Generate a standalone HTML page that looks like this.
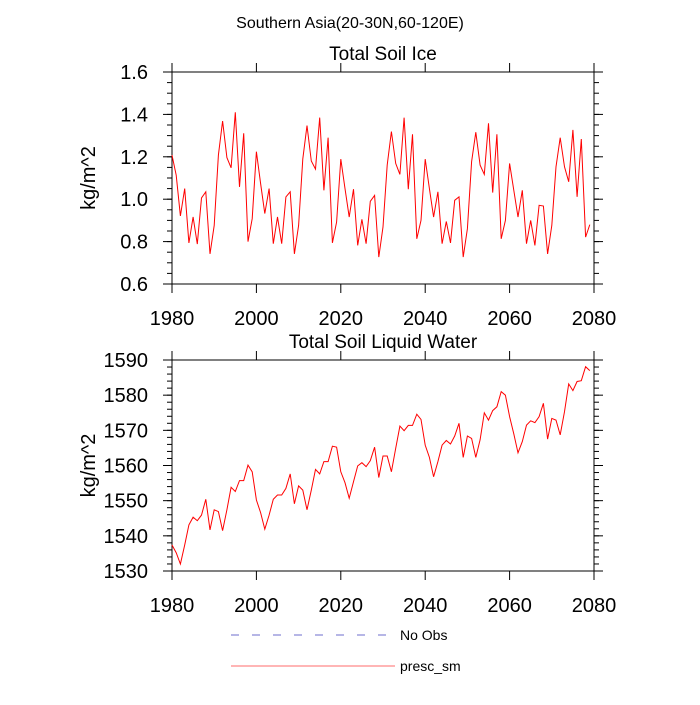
<!DOCTYPE html>
<html><head><meta charset="utf-8"><style>
body{margin:0;background:#fff;width:700px;height:700px;overflow:hidden}
svg text{font-family:"Liberation Sans",sans-serif;fill:#000}
</style></head><body>
<svg id="c" width="700" height="700"></svg>
<script>
const years=[];for(let y=1980;y<2080;y++)years.push(y);
const iceVals=[1.208,1.113,0.921,1.05,0.794,0.916,0.788,1.006,1.035,0.742,0.876,1.208,1.369,1.196,1.148,1.41,1.058,1.311,0.80,0.908,
1.224,1.074,0.932,1.05,0.79,0.916,0.79,1.011,1.035,0.742,0.876,1.19,1.347,1.18,1.142,1.385,1.042,1.29,0.794,0.892,
1.189,1.05,0.916,1.047,0.782,0.905,0.79,0.99,1.018,0.727,0.869,1.161,1.319,1.169,1.117,1.385,1.047,1.306,0.813,0.90,
1.189,1.05,0.916,1.035,0.79,0.895,0.794,0.995,1.011,0.727,0.861,1.177,1.316,1.161,1.117,1.358,1.031,1.306,0.813,0.90,
1.169,1.042,0.916,1.042,0.79,0.90,0.782,0.971,0.968,0.742,0.876,1.153,1.29,1.153,1.082,1.327,1.011,1.284,0.821,0.88];
const waterVals=[1537.4,1535.2,1532.0,1537.4,1543.1,1545.3,1544.3,1545.9,1550.4,1541.7,1547.4,1546.9,1541.5,1547.4,1553.8,1552.6,1555.7,1555.7,1560.1,1558.2,
1550.2,1546.6,1541.9,1545.9,1550.4,1551.6,1551.6,1553.5,1557.6,1549.1,1554.2,1553.0,1547.4,1553.0,1558.9,1557.6,1561.1,1561.1,1565.5,1565.2,
1558.2,1555.1,1550.7,1555.4,1559.9,1560.8,1559.7,1561.4,1565.2,1556.6,1562.7,1562.7,1558.2,1564.9,1571.2,1569.9,1571.4,1571.4,1574.6,1573.1,
1565.8,1562.3,1556.8,1561.1,1565.8,1567.1,1566.1,1568.4,1572.0,1562.3,1568.4,1567.7,1562.3,1567.3,1575.0,1572.9,1575.6,1576.7,1581.0,1580.0,
1573.9,1569.0,1563.6,1566.8,1571.5,1572.7,1572.2,1573.9,1577.7,1567.5,1573.4,1572.9,1568.7,1575.3,1583.2,1581.3,1583.9,1584.1,1588.1,1587.0];
const xTicks=[1980,2000,2020,2040,2060,2080];
const iceTicks=[0.6,0.8,1.0,1.2,1.4,1.6];
const waterTicks=[1530,1540,1550,1560,1570,1580,1590];

const NS="http://www.w3.org/2000/svg",svg=document.getElementById('c');
function el(t,a,p){const e=document.createElementNS(NS,t);for(const k in a)e.setAttribute(k,a[k]);(p||svg).appendChild(e);return e;}
function txt(s,a,name){const e=el('text',a);e.textContent=s;


return e;}
const L=172,R=594;
function panel(top,bot,ymin,ymax,yt,minor,vals,title,tfmt,key){
 const g=el('g',{});
 
 
 const sx=v=>L+(v-1980)/100*(R-L), sy=v=>bot-(v-ymin)/(ymax-ymin)*(bot-top);
 const fr=el('rect',{x:L,y:top,width:R-L,height:bot-top,fill:'none',stroke:'#000','stroke-width':1},g);
 
 
 for(const t of xTicks){const x=sx(t);
  el('line',{x1:x,x2:x,y1:bot,y2:bot+9,stroke:'#000'},g);
  el('line',{x1:x,x2:x,y1:top,y2:top-9,stroke:'#000'},g);
  txt(String(t),{x:x,y:bot+41,'font-size':20,'text-anchor':'middle'},key+'-x-tick-label');}
 for(let v=ymin;v<=ymax+1e-9;v+=minor){const y=sy(v);
  el('line',{x1:L,x2:L-5,y1:y,y2:y,stroke:'#000'},g);el('line',{x1:R,x2:R+5,y1:y,y2:y,stroke:'#000'},g);}
 for(const t of yt){const y=sy(t);
  el('line',{x1:L,x2:L-9,y1:y,y2:y,stroke:'#000'},g);el('line',{x1:R,x2:R+9,y1:y,y2:y,stroke:'#000'},g);
  txt(tfmt(t),{x:L-24,y:y+7,'font-size':20,'text-anchor':'end'},key+'-y-tick-label');}
 const d=vals.map((v,i)=>(i?'L':'M')+sx(years[i]).toFixed(1)+','+sy(v).toFixed(1)).join('');
 const p=el('path',{d:d,fill:'none',stroke:'#ff0000','stroke-width':1},g);
 
 
 txt(title,{x:(L+R)/2,y:top-12,'font-size':19,'text-anchor':'middle'},key+'-title');
 txt('kg/m^2',{x:0,y:0,'font-size':20,'text-anchor':'middle',transform:`translate(95,${(top+bot)/2}) rotate(-90)`},key+'-y-axis-title');
}
txt('Southern Asia(20-30N,60-120E)',{x:350,y:28,'font-size':16,'text-anchor':'middle'},'main-title');
panel(72,284,0.6,1.6,iceTicks,0.05,iceVals,'Total Soil Ice',t=>t.toFixed(1),'ice');
panel(360,571,1530,1590,waterTicks,2,waterVals,'Total Soil Liquid Water',t=>String(t),'water');
const l1=el('line',{x1:231,x2:388,y1:635,y2:635,stroke:'#6d6dcc','stroke-dasharray':'8 13'});


txt('No Obs',{x:400,y:640,'font-size':14},'legend-no-obs-label');
const l2=el('line',{x1:231,x2:395,y1:666,y2:666,stroke:'#ff6b6b'});


txt('presc_sm',{x:400,y:671,'font-size':14},'legend-presc-sm-label');
</script>
</body></html>
